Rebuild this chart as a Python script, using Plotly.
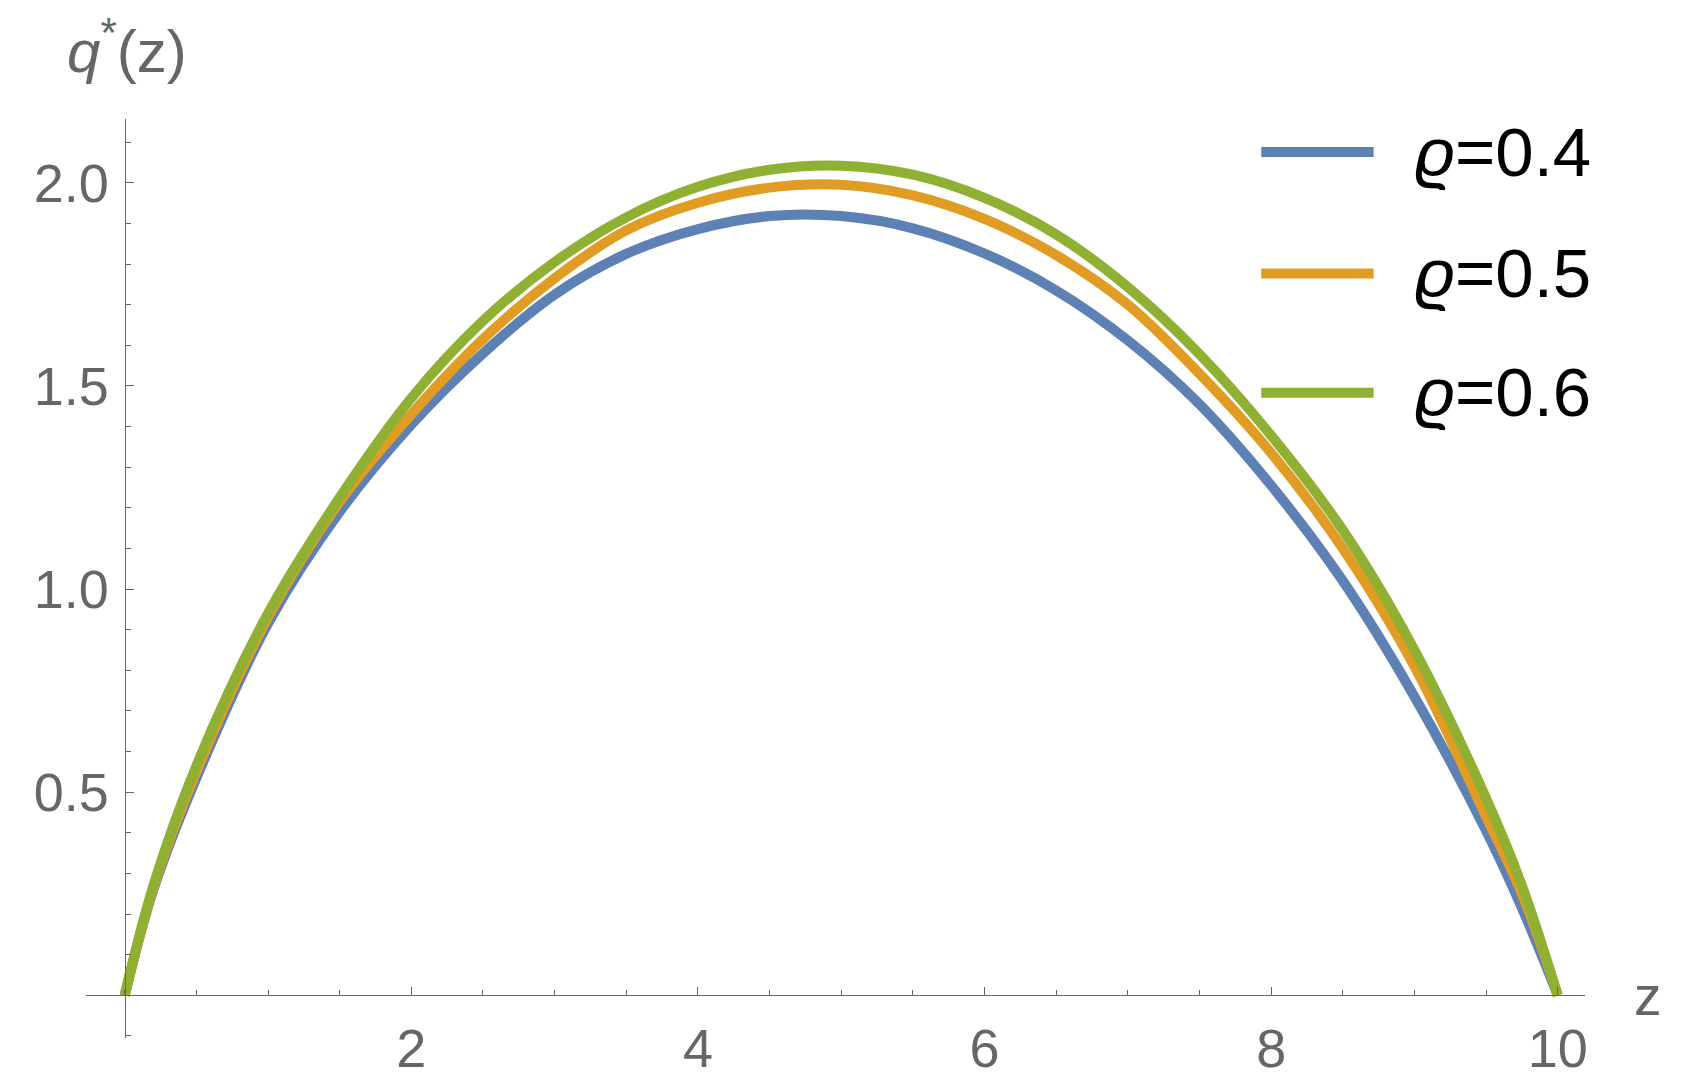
import plotly.graph_objects as go

FONT = "Liberation Sans, Arial, sans-serif"
AXIS_GRAY = "#666666"

# z grid shared by the three curves
z = [0, 0.2, 0.5, 1.0, 1.5, 2.0, 2.5, 3.0, 3.5, 4.0, 4.5, 5.0,
     5.5, 6.0, 6.5, 7.0, 7.5, 8.0, 8.5, 9.0, 9.5, 9.75, 10.0]

q_rho04 = [0, 0.26, 0.535, 0.915, 1.19, 1.405, 1.58, 1.725, 1.825, 1.886, 1.918, 1.918,
           1.888, 1.826, 1.735, 1.612, 1.455, 1.255, 1.02, 0.735, 0.405, 0.215, 0]
q_rho05 = [0, 0.265, 0.55, 0.93, 1.215, 1.43, 1.615, 1.765, 1.883, 1.951, 1.988, 1.995,
           1.969, 1.911, 1.822, 1.70, 1.53, 1.335, 1.10, 0.81, 0.44, 0.25, 0]
q_rho06 = [0, 0.27, 0.565, 0.94, 1.225, 1.47, 1.66, 1.805, 1.915, 1.99, 2.032, 2.042,
           2.02, 1.963, 1.873, 1.743, 1.578, 1.378, 1.145, 0.85, 0.485, 0.27, 0]

series_names = ["ϱ=0.4", "ϱ=0.5", "ϱ=0.6"]
series_colors = ["#5E81B5", "#E19C24", "#8FB032"]

x_ticks = [2, 4, 6, 8, 10]
y_ticks = [0.5, 1.0, 1.5, 2.0]
y_ticktext = ["0.5", "1.0", "1.5", "2.0"]

X_RANGE = [-0.27, 10.19]
Y_RANGE = [-0.105, 2.157]

fig = go.Figure()
for name, color, q in zip(series_names, series_colors, [q_rho04, q_rho05, q_rho06]):
    fig.add_trace(go.Scatter(x=z, y=q, mode="lines", name=name, showlegend=False,
                             line=dict(color=color, width=10, shape="spline", smoothing=1)))

# axes crossing at the origin, Mathematica style
x_pos = (0 - Y_RANGE[0]) / (Y_RANGE[1] - Y_RANGE[0])
y_pos = (0 - X_RANGE[0]) / (X_RANGE[1] - X_RANGE[0])

axis_common = dict(
    showgrid=False, zeroline=False, showline=True, linecolor=AXIS_GRAY, linewidth=1.3,
    ticks="inside", ticklen=8, tickwidth=1.3, tickcolor=AXIS_GRAY,
    tickfont=dict(family=FONT, size=54, color=AXIS_GRAY),
    anchor="free", automargin=False,
)
fig.update_xaxes(range=X_RANGE, tickmode="array", tickvals=x_ticks, position=x_pos,
                 ticklabelstandoff=6,
                 minor=dict(tickmode="linear", tick0=0, dtick=0.5, ticklen=5,
                            tickwidth=1.3, tickcolor=AXIS_GRAY, ticks="inside"),
                 **axis_common)
fig.update_yaxes(range=Y_RANGE, tickmode="array", tickvals=y_ticks, ticktext=y_ticktext,
                 position=y_pos, ticklabelstandoff=5,
                 minor=dict(tickmode="linear", tick0=0, dtick=0.1, ticklen=5,
                            tickwidth=1.3, tickcolor=AXIS_GRAY, ticks="inside"),
                 **axis_common)

# axis labels
fig.add_annotation(text="<i>q</i><sup>*</sup>(z)", xref="paper", yref="paper",
                   x=-0.014, y=1.078, xanchor="left", yanchor="middle", showarrow=False,
                   font=dict(family=FONT, size=60, color=AXIS_GRAY))
fig.add_annotation(text="z", xref="paper", yref="y", x=1.0, y=0, xanchor="left",
                   yanchor="middle", showarrow=False, xshift=47, yshift=-1,
                   font=dict(family=FONT, size=55, color=AXIS_GRAY))

# legend drawn by hand so the keys match the long Mathematica swatches
legend_y = [0.964, 0.832, 0.702]
for name, color, ly in zip(series_names, series_colors, legend_y):
    fig.add_shape(type="line", xref="paper", yref="paper", x0=0.784, x1=0.859, y0=ly, y1=ly,
                  line=dict(color=color, width=10))
    fig.add_annotation(text="<i>ϱ</i>" + name[1:], xref="paper", yref="paper", x=0.885, y=ly,
                       xanchor="left", yanchor="middle", showarrow=False,
                       font=dict(family=FONT, size=69, color="black"))

# page body adds an 8px offset, so the figure is sized to fit inside it
fig.update_layout(
    width=1666, height=1074,
    margin=dict(l=78, r=89, t=111, b=44),
    plot_bgcolor="white", paper_bgcolor="white",
    showlegend=False,
)

fig.write_html("out.html")
